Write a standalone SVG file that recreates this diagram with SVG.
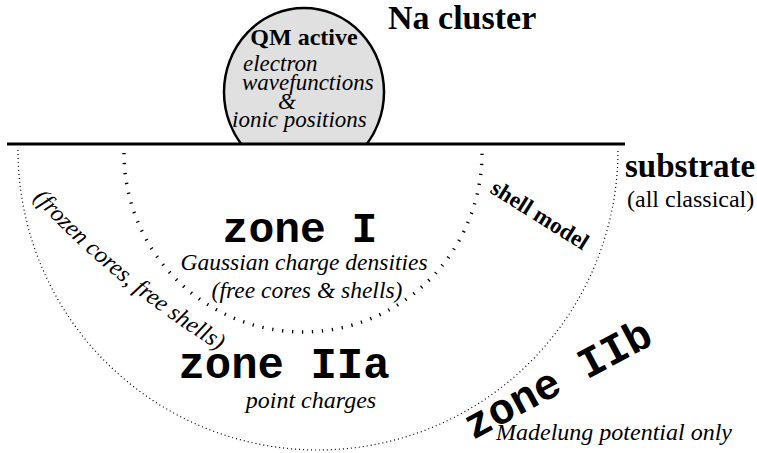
<svg xmlns="http://www.w3.org/2000/svg" width="757" height="453" viewBox="0 0 757 453">
  <style>
    text { fill: #000; }
    .bold { font-weight: bold; }
    .ital { font-style: italic; }
    .mono { font-weight: bold; }
    .outer { fill: none; stroke: #000; stroke-width: 1.2; stroke-dasharray: 1 3; }
    .inner { fill: none; stroke: #000; stroke-width: 3.4; stroke-dasharray: 1.3 8.7; }
  </style>
  <defs>
    <path id="frozenPath" d="M 33 198 Q 114 288 234 360"/>
    <clipPath id="aboveSurface"><rect x="0" y="0" width="757" height="144"/></clipPath>
  </defs>

  <rect width="757" height="453" fill="#fff"/>

  <!-- zone boundaries -->
  <g id="zone-boundaries">
    <path class="outer" d="M 18 150 A 300 300 0 0 0 618 150"/>
    <path class="inner" d="M 124 153 A 179 179 0 0 0 482 153"/>
  </g>

  <!-- Na cluster sitting on the surface -->
  <g id="cluster" font-family="Liberation Serif, serif">
    <ellipse cx="304" cy="92" rx="80" ry="84" fill="#e0e0e0" stroke="#000" stroke-width="2.5" clip-path="url(#aboveSurface)"/>
    <text class="bold" x="304" y="45" font-size="24" text-anchor="middle">QM active</text>
    <text class="ital" x="243" y="71" font-size="23">electron</text>
    <text class="ital" x="242" y="90" font-size="23">wavefunctions</text>
    <text class="ital" x="278" y="109" font-size="23">&amp;</text>
    <text class="ital" x="232" y="127" font-size="23">ionic positions</text>
  </g>

  <!-- surface line -->
  <g id="surface">
    <line x1="7" y1="144" x2="625" y2="144" stroke="#000" stroke-width="3"/>
  </g>

  <g id="labels" font-family="Liberation Serif, serif">
    <text class="bold" x="388" y="29" font-size="34">Na cluster</text>
    <text class="bold" x="625" y="177" font-size="33">substrate</text>
    <text x="627" y="207" font-size="24">(all classical)</text>
    <text class="bold" font-size="23" transform="translate(489 192) rotate(32)">shell model</text>
  </g>

  <g id="zone-I">
    <text class="mono" font-family="Liberation Mono, monospace" x="300" y="242" font-size="43" text-anchor="middle">zone I</text>
    <text class="ital" font-family="Liberation Serif, serif" x="304" y="270" font-size="23.5" text-anchor="middle">Gaussian charge densities</text>
    <text class="ital" font-family="Liberation Serif, serif" x="307" y="298" font-size="23.5" text-anchor="middle">(free cores &amp; shells)</text>
  </g>

  <g id="zone-IIa">
    <text class="ital" font-family="Liberation Serif, serif" font-size="24"><textPath href="#frozenPath">(frozen cores, free shells)</textPath></text>
    <text class="mono" font-family="Liberation Mono, monospace" x="284" y="378" font-size="44" text-anchor="middle">zone IIa</text>
    <text class="ital" font-family="Liberation Serif, serif" x="311" y="408" font-size="24" text-anchor="middle">point charges</text>
  </g>

  <g id="zone-IIb">
    <text class="mono" font-family="Liberation Mono, monospace" font-size="43" transform="translate(473 440) rotate(-28)">zone IIb</text>
    <text class="ital" font-family="Liberation Serif, serif" x="496" y="440" font-size="24">Madelung potential only</text>
  </g>
</svg>
